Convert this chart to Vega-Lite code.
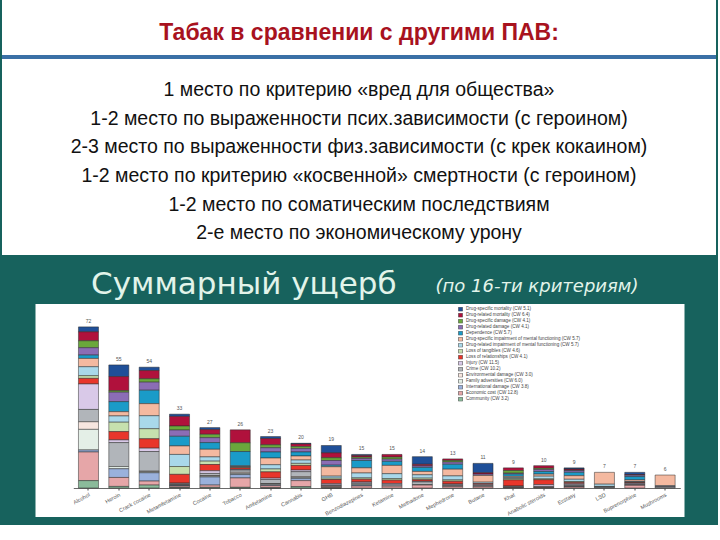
{
  "$schema": "https://vega.github.io/schema/vega-lite/v6.json",
  "background": "#17625d",
  "padding": {"left": 0, "top": 0, "right": 0, "bottom": 8},
  "config": {"view": {"stroke": null}, "font": "Liberation Sans"},
  "datasets": {
    "lines": [
      {"line": 0, "kind": "title", "text": "Табак в сравнении с другими ПАВ:"},
      {"line": 2, "kind": "body", "text": "1 место по критерию «вред для общества»"},
      {"line": 3, "kind": "body", "text": "1-2 место по выраженности псих.зависимости (с героином)"},
      {"line": 4, "kind": "body", "text": "2-3 место по выраженности физ.зависимости (с крек кокаином)"},
      {"line": 5, "kind": "body", "text": "1-2 место по критерию «косвенной» смертности (с героином)"},
      {"line": 6, "kind": "body", "text": "1-2 место по соматическим последствиям"},
      {"line": 7, "kind": "body", "text": "2-е место по экономическому урону"}
    ],
    "criteria": [
      {"c": 1, "criterion": "Drug-specific mortality (CW 5.1)"},
      {"c": 2, "criterion": "Drug-related mortality (CW 6.4)"},
      {"c": 3, "criterion": "Drug-specific damage (CW 4.1)"},
      {"c": 4, "criterion": "Drug-related damage (CW 4.1)"},
      {"c": 5, "criterion": "Dependence (CW 5.7)"},
      {"c": 6, "criterion": "Drug-specific impairment of mental functioning (CW 5.7)"},
      {"c": 7, "criterion": "Drug-related impairment of mental functioning (CW 5.7)"},
      {"c": 8, "criterion": "Loss of tangibles (CW 4.6)"},
      {"c": 9, "criterion": "Loss of relationships (CW 4.1)"},
      {"c": 10, "criterion": "Injury (CW 11.5)"},
      {"c": 11, "criterion": "Crime (CW 10.2)"},
      {"c": 12, "criterion": "Environmental damage (CW 3.0)"},
      {"c": 13, "criterion": "Family adversities (CW 6.0)"},
      {"c": 14, "criterion": "International damage (CW 3.8)"},
      {"c": 15, "criterion": "Economic cost (CW 12.8)"},
      {"c": 16, "criterion": "Community (CW 3.2)"}
    ],
    "harm": [
      {"drug": "Alcohol", "c": 1, "harm": 2.2}, {"drug": "Alcohol", "c": 2, "harm": 4.0}, {"drug": "Alcohol", "c": 3, "harm": 3.1}, {"drug": "Alcohol", "c": 4, "harm": 3.3},
      {"drug": "Alcohol", "c": 5, "harm": 1.5}, {"drug": "Alcohol", "c": 6, "harm": 3.7}, {"drug": "Alcohol", "c": 7, "harm": 4.0}, {"drug": "Alcohol", "c": 8, "harm": 1.2},
      {"drug": "Alcohol", "c": 9, "harm": 2.5}, {"drug": "Alcohol", "c": 10, "harm": 11.4}, {"drug": "Alcohol", "c": 11, "harm": 5.5}, {"drug": "Alcohol", "c": 12, "harm": 3.4},
      {"drug": "Alcohol", "c": 13, "harm": 9.2}, {"drug": "Alcohol", "c": 14, "harm": 0.9}, {"drug": "Alcohol", "c": 15, "harm": 12.8}, {"drug": "Alcohol", "c": 16, "harm": 3.3},

      {"drug": "Heroin", "c": 1, "harm": 5.2}, {"drug": "Heroin", "c": 2, "harm": 6.3}, {"drug": "Heroin", "c": 3, "harm": 0.7}, {"drug": "Heroin", "c": 4, "harm": 4.2},
      {"drug": "Heroin", "c": 5, "harm": 4.5}, {"drug": "Heroin", "c": 6, "harm": 1.9}, {"drug": "Heroin", "c": 7, "harm": 2.8}, {"drug": "Heroin", "c": 8, "harm": 4.2},
      {"drug": "Heroin", "c": 9, "harm": 3.7}, {"drug": "Heroin", "c": 10, "harm": 1.2}, {"drug": "Heroin", "c": 11, "harm": 10.7},
      {"drug": "Heroin", "c": 13, "harm": 1.0}, {"drug": "Heroin", "c": 14, "harm": 3.9}, {"drug": "Heroin", "c": 15, "harm": 4.0}, {"drug": "Heroin", "c": 16, "harm": 0.7},

      {"drug": "Crack cocaine", "c": 1, "harm": 1.5}, {"drug": "Crack cocaine", "c": 2, "harm": 3.7}, {"drug": "Crack cocaine", "c": 3, "harm": 1.5}, {"drug": "Crack cocaine", "c": 4, "harm": 3.6},
      {"drug": "Crack cocaine", "c": 5, "harm": 6.0}, {"drug": "Crack cocaine", "c": 6, "harm": 5.4}, {"drug": "Crack cocaine", "c": 7, "harm": 5.8}, {"drug": "Crack cocaine", "c": 8, "harm": 4.5},
      {"drug": "Crack cocaine", "c": 9, "harm": 4.2}, {"drug": "Crack cocaine", "c": 10, "harm": 1.5}, {"drug": "Crack cocaine", "c": 11, "harm": 8.8}, {"drug": "Crack cocaine", "c": 12, "harm": 0.3},
      {"drug": "Crack cocaine", "c": 13, "harm": 0.4}, {"drug": "Crack cocaine", "c": 14, "harm": 3.7}, {"drug": "Crack cocaine", "c": 15, "harm": 1.8}, {"drug": "Crack cocaine", "c": 16, "harm": 1.3},

      {"drug": "Metamfetamine", "c": 1, "harm": 1.0}, {"drug": "Metamfetamine", "c": 2, "harm": 4.3}, {"drug": "Metamfetamine", "c": 3, "harm": 1.8}, {"drug": "Metamfetamine", "c": 4, "harm": 2.8},
      {"drug": "Metamfetamine", "c": 5, "harm": 4.3}, {"drug": "Metamfetamine", "c": 6, "harm": 3.8}, {"drug": "Metamfetamine", "c": 7, "harm": 5.4}, {"drug": "Metamfetamine", "c": 8, "harm": 3.5},
      {"drug": "Metamfetamine", "c": 9, "harm": 3.9}, {"drug": "Metamfetamine", "c": 10, "harm": 0.3}, {"drug": "Metamfetamine", "c": 11, "harm": 0.4}, {"drug": "Metamfetamine", "c": 12, "harm": 0.2},
      {"drug": "Metamfetamine", "c": 13, "harm": 0.2}, {"drug": "Metamfetamine", "c": 14, "harm": 0.3}, {"drug": "Metamfetamine", "c": 15, "harm": 0.6}, {"drug": "Metamfetamine", "c": 16, "harm": 0.2},

      {"drug": "Cocaine", "c": 1, "harm": 0.9}, {"drug": "Cocaine", "c": 2, "harm": 2.1}, {"drug": "Cocaine", "c": 3, "harm": 1.5}, {"drug": "Cocaine", "c": 4, "harm": 2.2},
      {"drug": "Cocaine", "c": 5, "harm": 3.0}, {"drug": "Cocaine", "c": 6, "harm": 3.4}, {"drug": "Cocaine", "c": 7, "harm": 1.9}, {"drug": "Cocaine", "c": 8, "harm": 1.5},
      {"drug": "Cocaine", "c": 9, "harm": 2.8}, {"drug": "Cocaine", "c": 10, "harm": 1.2}, {"drug": "Cocaine", "c": 11, "harm": 1.0}, {"drug": "Cocaine", "c": 12, "harm": 0.2},
      {"drug": "Cocaine", "c": 13, "harm": 0.4}, {"drug": "Cocaine", "c": 14, "harm": 3.6}, {"drug": "Cocaine", "c": 15, "harm": 1.0}, {"drug": "Cocaine", "c": 16, "harm": 0.3},

      {"drug": "Tobacco", "c": 2, "harm": 5.8}, {"drug": "Tobacco", "c": 3, "harm": 3.9},
      {"drug": "Tobacco", "c": 5, "harm": 6.4}, {"drug": "Tobacco", "c": 6, "harm": 0.3}, {"drug": "Tobacco", "c": 7, "harm": 0.3}, {"drug": "Tobacco", "c": 8, "harm": 0.3},
      {"drug": "Tobacco", "c": 9, "harm": 0.7}, {"drug": "Tobacco", "c": 10, "harm": 0.3}, {"drug": "Tobacco", "c": 11, "harm": 1.0}, {"drug": "Tobacco", "c": 12, "harm": 0.5},
      {"drug": "Tobacco", "c": 13, "harm": 0.5}, {"drug": "Tobacco", "c": 14, "harm": 1.5}, {"drug": "Tobacco", "c": 15, "harm": 4.2}, {"drug": "Tobacco", "c": 16, "harm": 0.3},

      {"drug": "Amfetamine", "c": 1, "harm": 0.9}, {"drug": "Amfetamine", "c": 2, "harm": 2.8}, {"drug": "Amfetamine", "c": 3, "harm": 1.3}, {"drug": "Amfetamine", "c": 4, "harm": 1.9},
      {"drug": "Amfetamine", "c": 5, "harm": 2.7}, {"drug": "Amfetamine", "c": 6, "harm": 3.0}, {"drug": "Amfetamine", "c": 7, "harm": 1.9}, {"drug": "Amfetamine", "c": 8, "harm": 1.3},
      {"drug": "Amfetamine", "c": 9, "harm": 2.8}, {"drug": "Amfetamine", "c": 10, "harm": 0.6}, {"drug": "Amfetamine", "c": 11, "harm": 1.8}, {"drug": "Amfetamine", "c": 12, "harm": 0.2},
      {"drug": "Amfetamine", "c": 13, "harm": 0.4}, {"drug": "Amfetamine", "c": 14, "harm": 0.4}, {"drug": "Amfetamine", "c": 15, "harm": 0.9}, {"drug": "Amfetamine", "c": 16, "harm": 0.1},

      {"drug": "Cannabis", "c": 1, "harm": 0.3}, {"drug": "Cannabis", "c": 2, "harm": 1.2}, {"drug": "Cannabis", "c": 3, "harm": 0.9}, {"drug": "Cannabis", "c": 4, "harm": 1.5},
      {"drug": "Cannabis", "c": 5, "harm": 1.8}, {"drug": "Cannabis", "c": 6, "harm": 1.8}, {"drug": "Cannabis", "c": 7, "harm": 1.5}, {"drug": "Cannabis", "c": 8, "harm": 0.9},
      {"drug": "Cannabis", "c": 9, "harm": 2.1}, {"drug": "Cannabis", "c": 10, "harm": 0.7}, {"drug": "Cannabis", "c": 11, "harm": 2.2}, {"drug": "Cannabis", "c": 12, "harm": 0.4},
      {"drug": "Cannabis", "c": 13, "harm": 0.5}, {"drug": "Cannabis", "c": 14, "harm": 0.9}, {"drug": "Cannabis", "c": 15, "harm": 2.7}, {"drug": "Cannabis", "c": 16, "harm": 0.6},

      {"drug": "GHB", "c": 1, "harm": 3.3}, {"drug": "GHB", "c": 2, "harm": 2.2}, {"drug": "GHB", "c": 3, "harm": 1.2}, {"drug": "GHB", "c": 4, "harm": 2.1},
      {"drug": "GHB", "c": 5, "harm": 0.7}, {"drug": "GHB", "c": 6, "harm": 4.2}, {"drug": "GHB", "c": 7, "harm": 0.9}, {"drug": "GHB", "c": 8, "harm": 0.6},
      {"drug": "GHB", "c": 9, "harm": 1.9}, {"drug": "GHB", "c": 10, "harm": 0.6}, {"drug": "GHB", "c": 11, "harm": 0.4},
      {"drug": "GHB", "c": 13, "harm": 0.2}, {"drug": "GHB", "c": 15, "harm": 0.6}, {"drug": "GHB", "c": 16, "harm": 0.1},

      {"drug": "Benzodiazepines", "c": 1, "harm": 0.5}, {"drug": "Benzodiazepines", "c": 2, "harm": 0.7}, {"drug": "Benzodiazepines", "c": 3, "harm": 0.6}, {"drug": "Benzodiazepines", "c": 4, "harm": 0.9},
      {"drug": "Benzodiazepines", "c": 5, "harm": 3.3}, {"drug": "Benzodiazepines", "c": 6, "harm": 2.3}, {"drug": "Benzodiazepines", "c": 7, "harm": 2.2}, {"drug": "Benzodiazepines", "c": 8, "harm": 0.6},
      {"drug": "Benzodiazepines", "c": 9, "harm": 1.2}, {"drug": "Benzodiazepines", "c": 10, "harm": 0.5}, {"drug": "Benzodiazepines", "c": 11, "harm": 0.5},
      {"drug": "Benzodiazepines", "c": 13, "harm": 0.4}, {"drug": "Benzodiazepines", "c": 14, "harm": 0.4}, {"drug": "Benzodiazepines", "c": 15, "harm": 0.9},

      {"drug": "Ketamine", "c": 2, "harm": 1.2}, {"drug": "Ketamine", "c": 3, "harm": 0.9}, {"drug": "Ketamine", "c": 4, "harm": 1.0},
      {"drug": "Ketamine", "c": 5, "harm": 1.8}, {"drug": "Ketamine", "c": 6, "harm": 3.7}, {"drug": "Ketamine", "c": 7, "harm": 2.2}, {"drug": "Ketamine", "c": 8, "harm": 0.7},
      {"drug": "Ketamine", "c": 9, "harm": 1.5}, {"drug": "Ketamine", "c": 10, "harm": 0.6}, {"drug": "Ketamine", "c": 11, "harm": 0.6}, {"drug": "Ketamine", "c": 15, "harm": 0.8},

      {"drug": "Methadone", "c": 1, "harm": 3.4}, {"drug": "Methadone", "c": 2, "harm": 0.7}, {"drug": "Methadone", "c": 4, "harm": 0.7},
      {"drug": "Methadone", "c": 5, "harm": 1.8}, {"drug": "Methadone", "c": 6, "harm": 1.5}, {"drug": "Methadone", "c": 7, "harm": 1.5}, {"drug": "Methadone", "c": 8, "harm": 0.7},
      {"drug": "Methadone", "c": 9, "harm": 0.7}, {"drug": "Methadone", "c": 10, "harm": 0.3}, {"drug": "Methadone", "c": 11, "harm": 1.2},
      {"drug": "Methadone", "c": 13, "harm": 0.2}, {"drug": "Methadone", "c": 15, "harm": 1.3},

      {"drug": "Mephedrone", "c": 2, "harm": 0.7}, {"drug": "Mephedrone", "c": 3, "harm": 0.7}, {"drug": "Mephedrone", "c": 4, "harm": 1.0},
      {"drug": "Mephedrone", "c": 5, "harm": 2.2}, {"drug": "Mephedrone", "c": 6, "harm": 3.0}, {"drug": "Mephedrone", "c": 7, "harm": 1.8}, {"drug": "Mephedrone", "c": 8, "harm": 0.6},
      {"drug": "Mephedrone", "c": 9, "harm": 1.2}, {"drug": "Mephedrone", "c": 10, "harm": 0.4}, {"drug": "Mephedrone", "c": 11, "harm": 0.5},
      {"drug": "Mephedrone", "c": 13, "harm": 0.2}, {"drug": "Mephedrone", "c": 15, "harm": 0.7},

      {"drug": "Butane", "c": 1, "harm": 4.2}, {"drug": "Butane", "c": 2, "harm": 0.6}, {"drug": "Butane", "c": 4, "harm": 0.6},
      {"drug": "Butane", "c": 6, "harm": 3.0}, {"drug": "Butane", "c": 7, "harm": 0.6},
      {"drug": "Butane", "c": 9, "harm": 0.5}, {"drug": "Butane", "c": 10, "harm": 0.4}, {"drug": "Butane", "c": 11, "harm": 0.5}, {"drug": "Butane", "c": 15, "harm": 0.6},

      {"drug": "Khat", "c": 2, "harm": 1.2}, {"drug": "Khat", "c": 3, "harm": 1.2}, {"drug": "Khat", "c": 4, "harm": 0.4},
      {"drug": "Khat", "c": 5, "harm": 1.0}, {"drug": "Khat", "c": 6, "harm": 0.5}, {"drug": "Khat", "c": 7, "harm": 0.5}, {"drug": "Khat", "c": 8, "harm": 0.6},
      {"drug": "Khat", "c": 9, "harm": 2.7}, {"drug": "Khat", "c": 10, "harm": 0.3}, {"drug": "Khat", "c": 11, "harm": 0.3},
      {"drug": "Khat", "c": 13, "harm": 0.1}, {"drug": "Khat", "c": 15, "harm": 0.2},

      {"drug": "Anabolic steroids", "c": 2, "harm": 1.2}, {"drug": "Anabolic steroids", "c": 3, "harm": 0.5}, {"drug": "Anabolic steroids", "c": 4, "harm": 0.9},
      {"drug": "Anabolic steroids", "c": 5, "harm": 1.2}, {"drug": "Anabolic steroids", "c": 6, "harm": 0.9}, {"drug": "Anabolic steroids", "c": 7, "harm": 1.2}, {"drug": "Anabolic steroids", "c": 8, "harm": 0.4},
      {"drug": "Anabolic steroids", "c": 9, "harm": 2.2}, {"drug": "Anabolic steroids", "c": 10, "harm": 0.8}, {"drug": "Anabolic steroids", "c": 11, "harm": 0.4},
      {"drug": "Anabolic steroids", "c": 13, "harm": 0.1}, {"drug": "Anabolic steroids", "c": 15, "harm": 0.2},

      {"drug": "Ecstasy", "c": 1, "harm": 0.5}, {"drug": "Ecstasy", "c": 2, "harm": 0.5}, {"drug": "Ecstasy", "c": 3, "harm": 0.2}, {"drug": "Ecstasy", "c": 4, "harm": 0.8},
      {"drug": "Ecstasy", "c": 5, "harm": 1.5}, {"drug": "Ecstasy", "c": 6, "harm": 1.6}, {"drug": "Ecstasy", "c": 7, "harm": 1.0}, {"drug": "Ecstasy", "c": 8, "harm": 0.4},
      {"drug": "Ecstasy", "c": 9, "harm": 0.6}, {"drug": "Ecstasy", "c": 10, "harm": 0.5}, {"drug": "Ecstasy", "c": 11, "harm": 0.5},
      {"drug": "Ecstasy", "c": 13, "harm": 0.2}, {"drug": "Ecstasy", "c": 14, "harm": 0.2}, {"drug": "Ecstasy", "c": 15, "harm": 0.5},

      {"drug": "LSD", "c": 6, "harm": 5.3}, {"drug": "LSD", "c": 7, "harm": 1.0}, {"drug": "LSD", "c": 8, "harm": 0.2},
      {"drug": "LSD", "c": 10, "harm": 0.2}, {"drug": "LSD", "c": 11, "harm": 0.3},

      {"drug": "Buprenorphine", "c": 1, "harm": 1.0}, {"drug": "Buprenorphine", "c": 2, "harm": 0.3}, {"drug": "Buprenorphine", "c": 4, "harm": 0.6},
      {"drug": "Buprenorphine", "c": 5, "harm": 1.5}, {"drug": "Buprenorphine", "c": 6, "harm": 0.7}, {"drug": "Buprenorphine", "c": 7, "harm": 0.3}, {"drug": "Buprenorphine", "c": 8, "harm": 0.2},
      {"drug": "Buprenorphine", "c": 9, "harm": 0.3}, {"drug": "Buprenorphine", "c": 10, "harm": 0.4}, {"drug": "Buprenorphine", "c": 11, "harm": 0.4},
      {"drug": "Buprenorphine", "c": 13, "harm": 0.1}, {"drug": "Buprenorphine", "c": 15, "harm": 1.2},

      {"drug": "Mushrooms", "c": 6, "harm": 4.8}, {"drug": "Mushrooms", "c": 7, "harm": 0.3},
      {"drug": "Mushrooms", "c": 10, "harm": 0.3}, {"drug": "Mushrooms", "c": 11, "harm": 0.4}
    ]
  },
  "vconcat": [
    {
      "width": 714,
      "height": 255,
      "view": {"fill": "white", "stroke": null},
      "layer": [
        {
          "data": {"values": [{"mark": "rule"}]},
          "mark": {"type": "rule", "color": "#3a70a6", "strokeWidth": 4},
          "encoding": {
            "y": {"datum": 0.84, "type": "quantitative", "scale": {"domain": [-1.154, 7.76], "reverse": true, "nice": false, "zero": false}, "axis": null}
          }
        },
        {
          "data": {"name": "lines"},
          "transform": [{"filter": "datum.kind === 'title'"}],
          "mark": {"type": "text", "font": "Liberation Sans", "fontSize": 23, "fontWeight": "bold", "color": "#a8121e", "baseline": "middle"},
          "encoding": {
            "y": {"field": "line", "type": "quantitative", "scale": {"domain": [-1.154, 7.76], "reverse": true, "nice": false, "zero": false}, "axis": null},
            "text": {"field": "text"}
          }
        },
        {
          "data": {"name": "lines"},
          "transform": [{"filter": "datum.kind === 'body'"}],
          "mark": {"type": "text", "font": "Liberation Sans", "fontSize": 19.5, "color": "#111111", "baseline": "middle"},
          "encoding": {
            "y": {"field": "line", "type": "quantitative", "scale": {"domain": [-1.154, 7.76], "reverse": true, "nice": false, "zero": false}, "axis": null},
            "text": {"field": "text"}
          }
        }
      ]
    },
    {
      "width": 649,
      "height": 213,
      "view": {"fill": "white", "stroke": null},
      "title": {"text": "Суммарный ущерб", "anchor": "start", "frame": "group", "dx": 55.5, "font": "DejaVu Sans", "fontSize": 31, "fontWeight": "normal", "color": "#e2f4ea", "offset": -24},
      "data": {"name": "harm"},
      "transform": [
        {"lookup": "c", "from": {"data": {"name": "criteria"}, "key": "c", "fields": ["criterion"]}}
      ],
      "layer": [
        {
          "mark": {"type": "bar", "stroke": "#2b2b2b", "strokeWidth": 0.5},
          "encoding": {
            "x": {
              "field": "drug", "type": "nominal",
              "sort": ["Alcohol","Heroin","Crack cocaine","Metamfetamine","Cocaine","Tobacco","Amfetamine","Cannabis","GHB","Benzodiazepines","Ketamine","Methadone","Mephedrone","Butane","Khat","Anabolic steroids","Ecstasy","LSD","Buprenorphine","Mushrooms"],
              "scale": {"range": [37.8, 644.8], "paddingInner": 0.34, "paddingOuter": 0.17},
              "axis": {"orient": "bottom", "offset": -29, "title": null, "labelAngle": -28, "labelAlign": "right", "labelBaseline": "top", "labelFontSize": 5.5, "labelColor": "#555555", "labelPadding": 2, "tickSize": 2, "tickColor": "#444444", "domainColor": "#444444", "domainWidth": 0.8}
            },
            "y": {
              "field": "harm", "type": "quantitative", "stack": "zero",
              "scale": {"domain": [0, 80], "range": [184, 5], "nice": false},
              "axis": {"orient": "left", "offset": -38.5, "values": [0,10,20,30,40,50,60,70,80], "title": "Overall harm score", "titleFontSize": 5.5, "titleFontWeight": "normal", "titleColor": "#555555", "titlePadding": 5, "labelFontSize": 5, "labelColor": "#666666", "labelPadding": 2, "tickSize": 2, "tickColor": "#444444", "domainColor": "#444444", "domainWidth": 0.8, "grid": false}
            },
            "color": {
              "field": "criterion", "type": "nominal",
              "scale": {
                "domain": ["Drug-specific mortality (CW 5.1)","Drug-related mortality (CW 6.4)","Drug-specific damage (CW 4.1)","Drug-related damage (CW 4.1)","Dependence (CW 5.7)","Drug-specific impairment of mental functioning (CW 5.7)","Drug-related impairment of mental functioning (CW 5.7)","Loss of tangibles (CW 4.6)","Loss of relationships (CW 4.1)","Injury (CW 11.5)","Crime (CW 10.2)","Environmental damage (CW 3.0)","Family adversities (CW 6.0)","International damage (CW 3.8)","Economic cost (CW 12.8)","Community (CW 3.2)"],
                "range": ["#1f4f98","#b0113c","#6aa83c","#8b6db5","#1a9bc8","#f4b9a0","#a9d8ea","#c6e0ae","#e8362b","#d9c9e8","#b1b5ba","#f7e6df","#e4efe7","#9ab1dc","#e6a6a8","#8bbb9b"]
              },
              "legend": {"orient": "none", "legendX": 422.5, "legendY": 3, "title": null, "symbolType": "square", "symbolSize": 16, "symbolStrokeColor": "#333333", "symbolStrokeWidth": 0.5, "labelFontSize": 4.6, "labelColor": "#444444", "labelOffset": 3, "labelLimit": 400, "rowPadding": 0, "clipHeight": 4.5, "padding": 0}
            },
            "order": {"field": "c", "type": "quantitative", "sort": "descending"}
          }
        },
        {
          "transform": [{"aggregate": [{"op": "sum", "field": "harm", "as": "total"}], "groupby": ["drug"]}],
          "mark": {"type": "text", "baseline": "bottom", "dy": -3, "fontSize": 5, "color": "#555555"},
          "encoding": {
            "x": {
              "field": "drug", "type": "nominal",
              "sort": ["Alcohol","Heroin","Crack cocaine","Metamfetamine","Cocaine","Tobacco","Amfetamine","Cannabis","GHB","Benzodiazepines","Ketamine","Methadone","Mephedrone","Butane","Khat","Anabolic steroids","Ecstasy","LSD","Buprenorphine","Mushrooms"],
              "axis": {"orient": "top", "labels": false, "ticks": false, "domain": false, "title": "(по 16-ти критериям)", "titleFont": "DejaVu Sans", "titleFontStyle": "italic", "titleFontWeight": "normal", "titleFontSize": 18, "titleColor": "#e2f4ea", "titleAlign": "left", "titleAnchor": "start", "titleX": 399.5, "titleY": -13, "titleBaseline": "alphabetic"}
            },
            "y": {"field": "total", "type": "quantitative", "axis": null},
            "text": {"field": "total", "type": "quantitative", "format": ".0f"}
          }
        }
      ],
      "resolve": {"axis": {"x": "independent"}}
    }
  ],
  "resolve": {"legend": {"color": "independent"}},
  "spacing": 14,
  "center": true
}
